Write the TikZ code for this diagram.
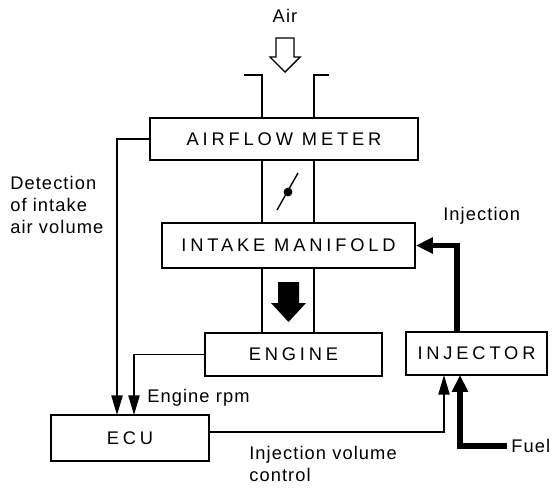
\documentclass[tikz,border=0pt]{standalone}
\usepackage{fontspec}
\setmainfont{Liberation Sans}
\newfontfamily\capsfont[LetterSpace=21]{Liberation Sans}
\newfontfamily\lowfont[LetterSpace=6]{Liberation Sans}
\usetikzlibrary{arrows.meta}
\tikzset{
  block/.style={draw, line width=1.3pt, inner sep=0pt,
    font=\capsfont\fontsize{13}{15}\selectfont},
  duct/.style={line width=1.3pt},
  sig/.style={line width=1.1pt, -{Triangle[length=14pt,width=8pt]}},
  flow/.style={line width=3.6pt, -{Triangle[length=12pt,width=11pt]}},
  lbl/.style={font=\lowfont\fontsize{13}{15.5}\selectfont, align=left,
    anchor=west, inner sep=0pt}
}

\begin{document}
\begin{tikzpicture}[x=0.025cm, y=-0.025cm]
\useasboundingbox (0,0) rectangle (556,489);

% blocks
\node[block, minimum width=6.7cm, minimum height=1.05cm] (meter) at (284,139) {AIRFLOW METER};
\node[block, minimum width=6.325cm, minimum height=1.125cm] (manifold) at (288.5,245.5) {INTAKE MANIFOLD};
\node[block, minimum width=4.425cm, minimum height=1.075cm] (engine) at (293.5,354.5) {ENGINE};
\node[block, minimum width=3.525cm, minimum height=1.075cm] (injector) at (476.5,353.5) {INJECTOR};
\node[block, minimum width=3.95cm, minimum height=1.15cm] (ecu) at (130,438) {ECU};

% labels
\node[font=\lowfont\fontsize{13}{15}\selectfont] (air) at (285,16) {Air};
\node[lbl] (detect) at (10,205) {Detection\\of intake\\air volume};
\node[lbl] (rpm) at (147,398) {Engine rpm};
\node[lbl] (inj) at (443,216) {Injection};
\node[lbl] (volume) at (249,464) {Injection volume\\control};
\node[lbl] (fuel) at (511,446) {Fuel};

% air duct
\draw[duct] (244,75) -- (262,75) -- (262,118);
\draw[duct] (329,75) -- (314,75) -- (314,118);
\draw[duct] (262,160) -- (262,223);
\draw[duct] (314,160) -- (314,223);
\draw[duct] (262,268) -- (262,333);
\draw[duct] (314,268) -- (314,333);

% throttle valve
\draw[line width=1pt] (277,210) -- (298,173);
\fill (288,192) circle[radius=0.11cm];

% air in, mixture to engine
\draw[line width=1pt, fill=white] (276,38) -- (294,38) -- (294,57) -- (300,57)
  -- (285,72) -- (270,57) -- (276,57) -- cycle;
\fill (278,282) -- (299,282) -- (299,303) -- (306,303) -- (288.5,322)
  -- (271,303) -- (278,303) -- cycle;

% signals
\coordinate (ecuA) at (117,415);
\coordinate (ecuB) at (134,415);
\coordinate (injA) at (444,375);
\coordinate (injB) at (460,375);
\coordinate (injtop) at (457,332);
\draw[sig] (meter.west) -| (ecuA);
\draw[sig] (engine.west) -| (ecuB);
\draw[sig] ([yshift=0.15cm]ecu.east) -| (injA);
\draw[flow] ([xshift=-3pt]fuel.west) -| (injB);
\draw[flow] (injtop) |- (manifold.east);
\end{tikzpicture}
\end{document}
